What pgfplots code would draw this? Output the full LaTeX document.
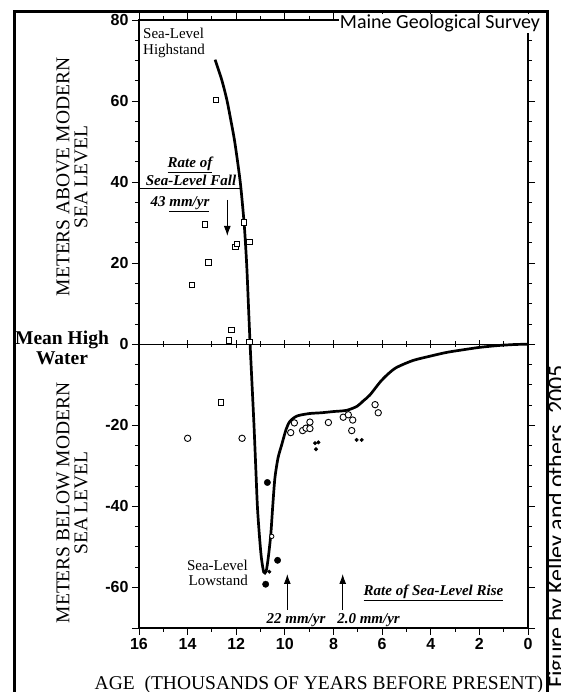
\documentclass[border=0pt]{standalone}
\usepackage{fontspec}
\setmainfont{Liberation Serif}
\newfontfamily\sansfont{Liberation Sans}
\newfontfamily\calibri{Carlito}
\usepackage{pgfplots}
\pgfplotsset{compat=1.18}
\usetikzlibrary{arrows.meta}

\begin{document}
\begin{tikzpicture}[x=1pt,y=1pt]
\path[use as bounding box] (0,0) rectangle (561,692);
\begin{axis}[at={(139pt,64pt)}, anchor=south west, scale only axis,
  width=389pt, height=608pt,
  xmin=0, xmax=16, x dir=reverse, ymin=-70, ymax=80,
  xtick={0,2,...,16}, minor x tick num=1,
  ytick={-60,-40,...,80}, minor y tick num=3,
  extra y ticks={-70}, extra y tick labels={},
  tick align=outside, major tick length=7pt, minor tick length=4pt,
  axis line style={line width=1.1pt},
  every tick/.style={black, line width=0.9pt},
  tick label style={font=\fontsize{16}{16}\selectfont\sansfont\bfseries},
  /pgf/number format/assume math mode=true,
  clip=false]
% zero line with ticks
\addplot[black, line width=1.3pt] coordinates {(0,0) (16,0)};
\addplot[only marks, mark=|, mark size=4pt, mark options={line width=0.9pt}]
  coordinates {(2,0)(4,0)(6,0)(8,0)(10,0)(12,0)(14,0)};
\addplot[only marks, mark=|, mark size=3pt, mark options={line width=0.9pt}]
  coordinates {(1,0)(3,0)(5,0)(7,0)(9,0)(11,0)(13,0)(15,0)};
% sea-level curve
\addplot[black, line width=2.7pt, smooth, tension=0.45] coordinates {
(12.87,70.2)(12.6,65.3)(12.39,60.4)(12.23,55.5)(12.08,50.6)(11.96,45.7)
(11.82,39.2)(11.67,29.4)(11.57,19.6)(11.5,9.8)(11.43,0)(11.35,-10)
(11.27,-20)(11.2,-30)(11.13,-40)(11.05,-47)(10.97,-52.5)(10.87,-56.2)
(10.77,-56)(10.68,-52.5)(10.58,-47)(10.5,-40)(10.41,-33)(10.28,-28)
(10.13,-24.8)(9.95,-21)(9.79,-19)(9.5,-17.7)(9.0,-17.1)(8.5,-16.9)
(8.0,-16.6)(7.46,-16.3)(7.03,-15.3)(6.78,-14)(6.5,-12.5)(6.08,-9.3)
(5.75,-7.3)(5.4,-5.7)(4.73,-4)(4.0,-2.9)(3.34,-2)(2.6,-1.3)(1.97,-0.75)
(1.2,-0.3)(0.5,-0.05)(0,0)};
% open squares
\addplot[only marks, mark=square*, mark size=2.7pt,
  mark options={fill=white, draw=black, line width=0.9pt}] coordinates {
(12.83,60.2)(13.29,29.6)(13.15,20.2)(13.83,14.7)(12.03,24.0)(11.97,24.8)
(11.68,30.1)(11.46,25.3)(12.19,3.5)(12.3,0.9)(11.46,0.5)(12.64,-14.4)};
% open circles
\addplot[only marks, mark=*, mark size=3.2pt,
  mark options={fill=white, draw=black, line width=0.9pt}] coordinates {
(14.0,-23.2)(11.76,-23.2)(9.76,-21.8)(9.61,-19.4)(9.27,-21.3)(9.13,-20.7)
(8.97,-19.2)(8.97,-20.8)(8.21,-19.3)(7.6,-18.0)(7.39,-17.4)(7.21,-18.7)
(7.25,-21.3)(6.29,-14.9)(6.16,-16.9)};
\addplot[only marks, mark=*, mark size=2.2pt,
  mark options={fill=white, draw=black, line width=0.8pt}] coordinates {
(10.54,-47.4)};
% filled circles
\addplot[only marks, mark=*, mark size=3.2pt, black] coordinates {
(10.72,-34.1)(10.79,-59.2)(10.3,-53.3)};
\addplot[only marks, mark=*, mark size=1.8pt, black] coordinates {
(10.64,-56.1)(8.76,-24.4)(8.62,-24.2)(8.72,-25.9)(7.05,-23.6)(6.84,-23.6)};
\end{axis}
% credit on white patch, then frame
\node[font=\calibri\fontsize{20}{20}\selectfont, anchor=base, fill=white, inner sep=1pt] at (440,663.5) {Maine Geological Survey};
\draw[line width=3.3pt] (14.5,-10) -- (14.5,680.5) -- (547.5,680.5) -- (547.5,-10);
% texts
\node[font=\calibri\fontsize{24}{24}\selectfont, anchor=base west, rotate=90, inner sep=0pt] at (564,4) {Figure by Kelley and others, 2005};
\node[font=\fontsize{19.5}{18}\selectfont, rotate=90, align=center] at (72,515) {METERS ABOVE MODERN\\SEA LEVEL};
\node[font=\fontsize{19.5}{20}\selectfont\bfseries, align=center] at (62,344) {Mean High\\Water};
\node[font=\fontsize{19.5}{18}\selectfont, rotate=90, align=center] at (72,189) {METERS BELOW MODERN\\SEA LEVEL};
\node[font=\fontsize{19.5}{20}\selectfont, anchor=base, inner sep=0pt] at (319,2) {AGE\ \ (THOUSANDS OF YEARS BEFORE PRESENT)};
% highstand / lowstand
\node[font=\fontsize{15}{16}\selectfont, anchor=base west, inner sep=0pt] at (143,653) {Sea-Level};
\node[font=\fontsize{15}{16}\selectfont, anchor=base west, inner sep=0pt] at (143,637) {Highstand};
\node[font=\fontsize{15}{16}\selectfont, anchor=base east, inner sep=0pt] at (248,121) {Sea-Level};
\node[font=\fontsize{15}{16}\selectfont, anchor=base east, inner sep=0pt] at (248,106) {Lowstand};
% rate of fall
\node[font=\fontsize{15}{16}\selectfont\bfseries\itshape, anchor=base, inner sep=0pt] at (190,524) {\underline{Rate of}};
\node[font=\fontsize{15}{16}\selectfont\bfseries\itshape, anchor=base, inner sep=0pt] at (191,506) {Sea-Level Fall};
\draw[line width=0.9pt] (139,503.5) -- (241,503.5);
\node[font=\fontsize{15}{16}\selectfont\bfseries\itshape, anchor=base, inner sep=0pt] at (180,485) {43 \underline{mm/yr}};
\draw[line width=1pt, -{Latex[length=10pt,width=7pt]}] (227.3,492) -- (227.3,456);
% rate of rise
\draw[line width=1pt, -{Latex[length=10pt,width=7pt]}] (287.3,82) -- (287.3,118);
\draw[line width=1pt, -{Latex[length=10pt,width=7pt]}] (342.7,82) -- (342.7,118);
\node[font=\fontsize{15}{16}\selectfont\bfseries\itshape, anchor=base, inner sep=0pt] at (296,68) {22 \underline{mm/yr}};
\node[font=\fontsize{15}{16}\selectfont\bfseries\itshape, anchor=base, inner sep=0pt] at (368.5,68) {2.0 \underline{mm/yr}};
\node[font=\fontsize{15}{16}\selectfont\bfseries\itshape, anchor=base, inner sep=0pt] at (433.5,96) {\underline{Rate of Sea-Level Rise}};
\end{tikzpicture}
\end{document}
